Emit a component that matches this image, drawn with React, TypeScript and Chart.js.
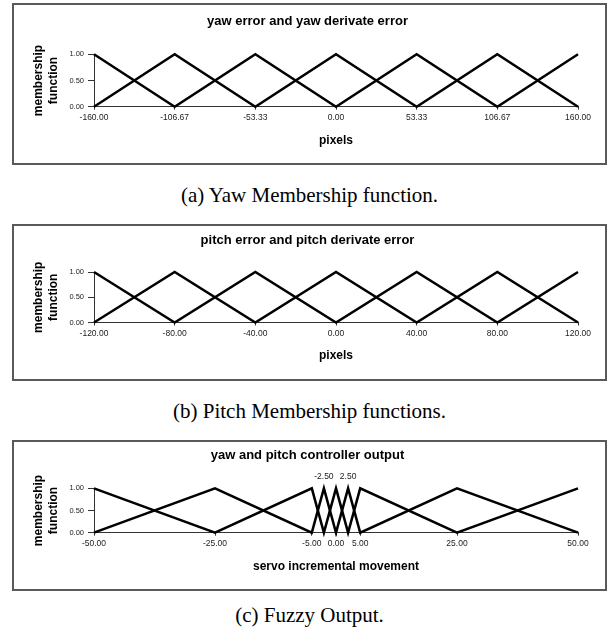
import React, { useEffect, useRef } from "react";
import { Chart, registerables } from "chart.js";

Chart.register(...registerables);

// ---- data ----
const yawTicks = [-160, -106.67, -53.33, 0, 53.33, 106.67, 160];
const yawSeriesA = [1, 0, 1, 0, 1, 0, 1];
const yawSeriesB = [0, 1, 0, 1, 0, 1, 0];

const pitchTicks = [-120, -80, -40, 0, 40, 80, 120];
const pitchSeriesA = [1, 0, 1, 0, 1, 0, 1];
const pitchSeriesB = [0, 1, 0, 1, 0, 1, 0];

const outputPoints = [-50, -25, -5, -2.5, 0, 2.5, 5, 25, 50];
const outputSeriesA = [1, 0, 1, 0, 1, 0, 1, 0, 1];
const outputSeriesB = [0, 1, 0, 1, 0, 1, 0, 1, 0];
const outputTicks = [-50, -25, -5, 0, 5, 25, 50];
const outputTopLabels = [-2.5, 2.5];

const membershipTicks = [0, 0.5, 1];

const titles = [
  "yaw error and yaw derivate error",
  "pitch error and pitch derivate error",
  "yaw and pitch controller output",
];
const xTitles = ["pixels", "pixels", "servo incremental movement"];
const yTitle = ["membership", "function"];
const captions = [
  "(a) Yaw Membership function.",
  "(b) Pitch Membership functions.",
  "(c) Fuzzy Output.",
];

// ---- styles ----
const SANS = "'Liberation Sans', Arial, Helvetica, sans-serif";
const SERIF = "'Liberation Serif', 'Times New Roman', Times, serif";
const AXIS_COLOR = "#333";
const TICK_COLOR = "#222";

type Spec = {
  title: string;
  xTitle: string;
  points: number[];
  seriesA: number[];
  seriesB: number[];
  xTicks: number[];
  topLabels: number[];
  boxTop: number;
  boxH: number;
  titlePad: { top: number; bottom: number };
  xH: number;
  xTitlePadBottom: number;
};

const BOX_LEFT = 12;
const BOX_W = 595;

const specs: Spec[] = [
  {
    title: titles[0],
    xTitle: xTitles[0],
    points: yawTicks,
    seriesA: yawSeriesA,
    seriesB: yawSeriesB,
    xTicks: yawTicks,
    topLabels: [],
    boxTop: 3,
    boxH: 162,
    titlePad: { top: 8.2, bottom: 25.5 },
    xH: 56.3,
    xTitlePadBottom: 14.8,
  },
  {
    title: titles[1],
    xTitle: xTitles[1],
    points: pitchTicks,
    seriesA: pitchSeriesA,
    seriesB: pitchSeriesB,
    xTicks: pitchTicks,
    topLabels: [],
    boxTop: 224,
    boxH: 157,
    titlePad: { top: 6.2, bottom: 24.2 },
    xH: 56.5,
    xTitlePadBottom: 15.8,
  },
  {
    title: titles[2],
    xTitle: xTitles[2],
    points: outputPoints,
    seriesA: outputSeriesA,
    seriesB: outputSeriesB,
    xTicks: outputTicks,
    topLabels: outputTopLabels,
    boxTop: 440,
    boxH: 151,
    titlePad: { top: 5.2, bottom: 25.5 },
    xH: 56.3,
    xTitlePadBottom: 15.3,
  },
];

const captionBaselines = [203, 419, 623];

function Panel({ spec }: { spec: Spec }) {
  const ref = useRef<HTMLCanvasElement | null>(null);
  const cw = BOX_W - 4;
  const ch = spec.boxH - 4;

  useEffect(() => {
    const canvas = ref.current;
    if (!canvas) return;
    const toData = (ys: number[]) => spec.points.map((x, i) => ({ x, y: ys[i] }));
    const lineStyle = {
      showLine: true,
      borderColor: "#000",
      borderWidth: 2.5,
      pointRadius: 0,
      pointHoverRadius: 0,
      fill: false,
      tension: 0,
      borderJoinStyle: "miter" as const,
      clip: false as const,
    };
    const topLabelPlugin = {
      id: "topLabels",
      afterDatasetsDraw(chart: any) {
        if (!spec.topLabels.length) return;
        const ctx = chart.ctx;
        const xs = chart.scales.x;
        const top = chart.chartArea.top;
        ctx.save();
        ctx.font = `8.5px ${SANS}`;
        ctx.fillStyle = TICK_COLOR;
        ctx.textAlign = "center";
        ctx.textBaseline = "middle";
        spec.topLabels.forEach((v) => {
          ctx.fillText(v.toFixed(2), xs.getPixelForValue(v), top - 12);
        });
        ctx.restore();
      },
    };
    const xMin = spec.points[0];
    const xMax = spec.points[spec.points.length - 1];
    const chart = new Chart(canvas, {
      type: "scatter",
      data: {
        datasets: [
          { data: toData(spec.seriesA), ...lineStyle },
          { data: toData(spec.seriesB), ...lineStyle },
        ],
      },
      options: {
        responsive: false,
        maintainAspectRatio: false,
        animation: false,
        events: [],
        layout: { padding: { left: 23, right: 27, top: 0, bottom: 0 } },
        plugins: {
          legend: { display: false },
          tooltip: { enabled: false },
          title: {
            display: true,
            text: spec.title,
            color: "#000",
            font: { family: SANS, size: 13, weight: "bold", lineHeight: 1.2 },
            padding: spec.titlePad,
          },
        },
        scales: {
          x: {
            type: "linear",
            min: xMin,
            max: xMax,
            afterBuildTicks: (s: any) => {
              s.ticks = spec.xTicks.map((v) => ({ value: v }));
            },
            afterFit: (s: any) => {
              s.height = spec.xH;
            },
            ticks: {
              autoSkip: false,
              maxRotation: 0,
              minRotation: 0,
              padding: 3,
              color: TICK_COLOR,
              font: { family: SANS, size: 8.5, lineHeight: 1.2 },
              callback: (v: any) => Number(v).toFixed(2),
            },
            grid: { drawOnChartArea: false, drawTicks: true, tickLength: 3, color: AXIS_COLOR },
            border: { display: true, color: AXIS_COLOR, width: 1 },
            title: {
              display: true,
              text: spec.xTitle,
              color: "#000",
              font: { family: SANS, size: 12, weight: "bold", lineHeight: 1.2 },
              padding: { top: 0, bottom: spec.xTitlePadBottom },
            },
          },
          y: {
            type: "linear",
            min: 0,
            max: 1,
            afterBuildTicks: (s: any) => {
              s.ticks = membershipTicks.map((v) => ({ value: v }));
            },
            afterFit: (s: any) => {
              s.width = 57;
            },
            ticks: {
              padding: 4,
              color: TICK_COLOR,
              font: { family: SANS, size: 7.5, lineHeight: 1.2 },
              callback: (v: any) => Number(v).toFixed(2),
            },
            grid: { drawOnChartArea: false, drawTicks: true, tickLength: 6, color: AXIS_COLOR },
            border: { display: true, color: AXIS_COLOR, width: 1 },
            title: {
              display: true,
              text: yTitle,
              color: "#000",
              font: { family: SANS, size: 12, weight: "bold", lineHeight: 1.25 },
              padding: { top: -6, bottom: 0 },
            },
          },
        },
      },
      plugins: [topLabelPlugin],
    } as any);
    return () => chart.destroy();
  }, [spec]);

  return (
    <div
      style={{
        position: "absolute",
        left: BOX_LEFT,
        top: spec.boxTop,
        width: BOX_W,
        height: spec.boxH,
        boxSizing: "border-box",
        border: "2px solid #5a5a5a",
        background: "#fff",
      }}
    >
      <canvas
        ref={ref}
        width={cw}
        height={ch}
        style={{ position: "absolute", left: 0, top: 0, width: cw, height: ch, display: "block" }}
      />
    </div>
  );
}

export default function App() {
  return (
    <div
      style={{
        position: "absolute",
        left: 0,
        top: 0,
        width: 610,
        height: 635,
        background: "#fff",
        overflow: "hidden",
      }}
    >
      {specs.map((s, i) => (
        <Panel key={i} spec={s} />
      ))}
      {captions.map((c, i) => (
        <div
          key={"c" + i}
          style={{
            position: "absolute",
            left: 0,
            width: 619,
            top: captionBaselines[i] - 17.6,
            textAlign: "center",
            fontFamily: SERIF,
            fontSize: 21,
            lineHeight: "21px",
            color: "#000",
            whiteSpace: "nowrap",
          }}
        >
          {c}
        </div>
      ))}
    </div>
  );
}
